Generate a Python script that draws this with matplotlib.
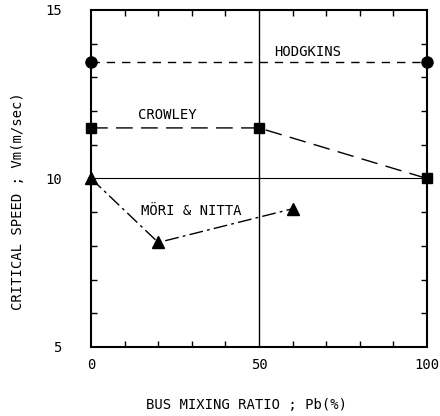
import numpy as np
import matplotlib
matplotlib.use("Agg")
import matplotlib.pyplot as plt
from matplotlib.ticker import MultipleLocator

# data
hodgkins_x = [0, 100]
hodgkins_y = [13.45, 13.45]
crowley_x = [0, 50, 100]
crowley_y = [11.5, 11.5, 10.0]
mori_x = [0, 20, 60]
mori_y = [10.0, 8.1, 9.1]

x_ticks = [0, 50, 100]
y_ticks = [5, 10, 15]

plt.rcParams['font.family'] = ['DejaVu Sans Mono']

fig = plt.figure(figsize=(4.4, 4.16), dpi=100)
ax = fig.add_axes([0.207, 0.166, 0.763, 0.810])

# reference lines
ax.axvline(50, color='black', linewidth=1.0)
ax.axhline(10, color='black', linewidth=0.8)

ax.plot(hodgkins_x, hodgkins_y, color='black', linestyle=(0, (6, 5)), linewidth=1.0,
        marker='o', markersize=8, clip_on=False)
ax.plot(crowley_x, crowley_y, color='black', linestyle=(0, (12, 6)), linewidth=1.0,
        marker='s', markersize=7, clip_on=False)
ax.plot(mori_x, mori_y, color='black', linestyle=(0, (10, 3, 2, 3)), linewidth=1.0,
        marker='^', markersize=8, clip_on=False)

ax.text(54.5, 13.75, 'HODGKINS', fontsize=10, va='center')
ax.text(14, 11.88, 'CROWLEY', fontsize=10, va='center')
ax.text(15, 9.03, 'MÖRI & NITTA', fontsize=10, va='center')

ax.set_xlim(0, 100)
ax.set_ylim(5, 15)
ax.set_xticks(x_ticks)
ax.set_yticks(y_ticks)
ax.xaxis.set_minor_locator(MultipleLocator(10))
ax.yaxis.set_minor_locator(MultipleLocator(1))
ax.tick_params(which='major', length=0, labelsize=10)
ax.tick_params(axis='x', which='major', pad=8)
ax.tick_params(axis='y', which='major', pad=21)
ax.tick_params(which='minor', direction='in', length=4, width=1,
               top=True, right=True)
for s in ax.spines.values():
    s.set_linewidth(1.5)

ax.set_xlabel('BUS MIXING RATIO ; Pb(%)', fontsize=10, va='center')
ax.set_ylabel('CRITICAL SPEED ; Vm(m/sec)', fontsize=10, va='center')
ax.xaxis.set_label_coords(0.464, -0.172)
ax.yaxis.set_label_coords(-0.217, 0.433)

fig.savefig('out.png', dpi=100)
